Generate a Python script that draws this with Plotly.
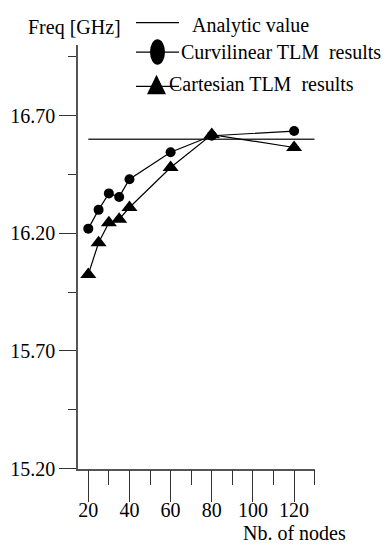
import plotly.graph_objects as go

# ---- data ----
nodes = [20, 25, 30, 35, 40, 60, 80, 120]
curvilinear = [16.22, 16.30, 16.37, 16.355, 16.43, 16.545, 16.615, 16.635]
cartesian = [16.025, 16.16, 16.245, 16.26, 16.31, 16.48, 16.62, 16.565]
analytic_x = [20, 130]
analytic_value = [16.60, 16.60]

x_tickvals = [20, 40, 60, 80, 100, 120]
x_ticktext = ["20", "40", "60", "80", "100", "120"]
x_minor = [30, 50, 70, 90, 110, 130]
y_tickvals = [15.2, 15.7, 16.2, 16.7]
y_ticktext = ["15.20", "15.70", "16.20", "16.70"]
y_minor = [15.45, 15.95, 16.45, 16.95]

W, H = 392, 545
FONT = "Liberation Serif"
TX = -9  # horizontal correction for annotation placement


def px(x):
    return x / W


def py(y):
    return 1 - y / H


fig = go.Figure()
fig.add_trace(go.Scatter(x=analytic_x, y=analytic_value, mode="lines",
                         line=dict(color="#333", width=1.5), showlegend=False))
fig.add_trace(go.Scatter(x=nodes, y=curvilinear, mode="lines+markers",
                         line=dict(color="black", width=1.2),
                         marker=dict(symbol="circle", size=10, color="black"),
                         showlegend=False))
fig.add_trace(go.Scatter(x=nodes, y=cartesian, mode="lines+markers",
                         line=dict(color="black", width=1.2),
                         marker=dict(symbol="triangle-up", size=14, color="black"),
                         showlegend=False))

fig.update_layout(
    width=W, height=H, autosize=False,
    margin=dict(l=0, r=0, t=0, b=0),
    paper_bgcolor="white", plot_bgcolor="white",
    font=dict(family=FONT, size=20, color="black"),
    xaxis=dict(domain=[px(70), px(306.7)], range=[15, 130],
               showline=True, linecolor="#555", linewidth=1.5,
               showgrid=False, zeroline=False,
               ticks="outside", tickvals=x_tickvals, ticktext=x_ticktext,
               ticklen=32, tickwidth=1.2, tickcolor="#333",
               ticklabelstandoff=-9,
               tickfont=dict(family=FONT, size=20, color="black"),
               minor=dict(tickvals=x_minor, ticks="outside", ticklen=15,
                          tickwidth=1.2, tickcolor="#333", showgrid=False)),
    yaxis=dict(domain=[py(470), py(38)], range=[15.2, 17.0],
               showline=True, linecolor="#555", linewidth=1.5,
               showgrid=False, zeroline=False,
               ticks="outside", tickvals=y_tickvals, ticktext=y_ticktext,
               ticklen=17, tickwidth=1.2, tickcolor="#333",
               ticklabelstandoff=0,
               tickfont=dict(family=FONT, size=20, color="black"),
               minor=dict(tickvals=y_minor, ticks="outside", ticklen=8,
                          tickwidth=1.2, tickcolor="#333", showgrid=False)),
)

# axis titles
fig.add_annotation(text="Freq [GHz]", xref="paper", yref="paper",
                   x=px(123 + TX), y=py(20), xanchor="right", yanchor="middle",
                   align="right", borderpad=0,
                   showarrow=False, font=dict(family=FONT, size=20))
fig.add_annotation(text="Nb. of nodes", xref="paper", yref="paper",
                   x=px(295 + TX), y=py(536), xanchor="center", yanchor="middle",
                   borderpad=0,
                   showarrow=False, font=dict(family=FONT, size=20))

# legend (hand-drawn like the original)
legend_items = [
    ("Analytic value", 15, 192, 18),
    ("Curvilinear TLM\u00a0 results", 45, 181, 45),
    ("Cartesian TLM\u00a0 results", 80, 169, 78),
]
for label, ly, tx, ty in legend_items:
    fig.add_shape(type="line", xref="paper", yref="paper",
                  x0=px(128), x1=px(171), y0=py(ly), y1=py(ly),
                  line=dict(color="black", width=1.3))
    fig.add_annotation(text=label, xref="paper", yref="paper",
                       x=px(tx + TX), y=py(ty), xanchor="left", yanchor="middle",
                       align="left", borderpad=0,
                       showarrow=False, font=dict(family=FONT, size=20))

fig.add_shape(type="circle", xref="paper", yref="paper",
              x0=px(142), x1=px(157), y0=py(58), y1=py(32),
              fillcolor="black", line=dict(color="black", width=0))
fig.add_shape(type="path", xref="paper", yref="paper",
              path=f"M {px(148.5)},{py(68)} L {px(139)},{py(88)} L {px(158)},{py(88)} Z",
              fillcolor="black", line=dict(color="black", width=0))

fig.write_html("out.html")
